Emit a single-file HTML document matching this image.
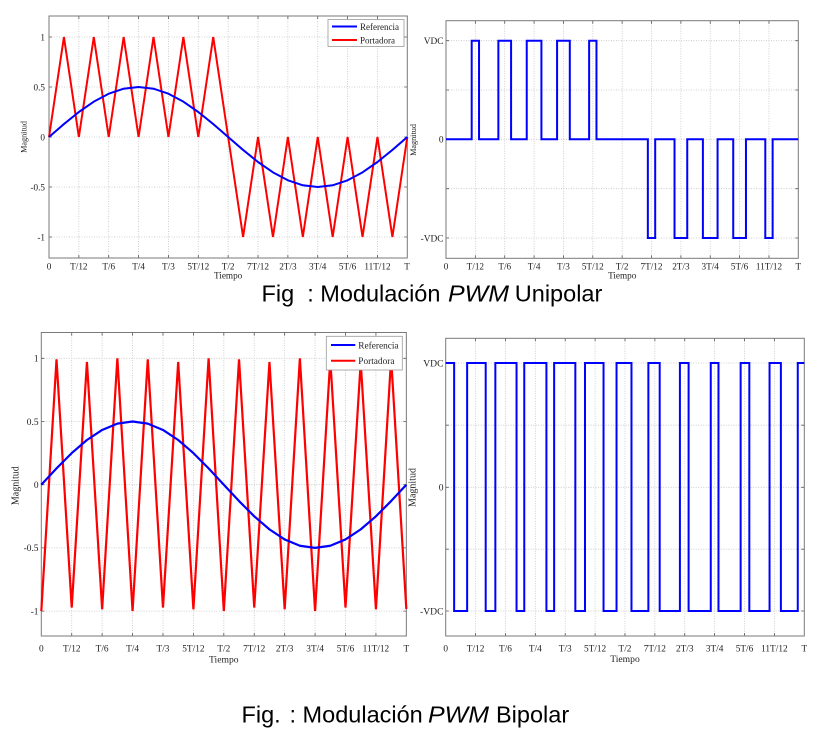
<!DOCTYPE html>
<html><head><meta charset="utf-8"><style>
html,body{margin:0;padding:0;background:#fff;}
svg{display:block;}
.t{font-family:"Liberation Serif",serif;fill:#222;}
.g{stroke:#c4c4c4;stroke-width:0.8;stroke-dasharray:1 1.5;fill:none;}
.ax{stroke:#7a7a7a;stroke-width:1;fill:none;}
.tk{stroke:#555;stroke-width:0.8;fill:none;}
.cap{font-family:"Liberation Sans",Arial,sans-serif;font-size:23.5px;fill:#000;}
</style></head><body>
<svg width="826" height="742" viewBox="0 0 826 742" xmlns="http://www.w3.org/2000/svg">
<rect width="826" height="742" fill="#fff"/>

<!-- ============ TOP LEFT ============ -->
<g>
<path class="g" d="M78.86,16V258M108.72,16V258M138.58,16V258M168.44,16V258M198.3,16V258M228.16,16V258M258.02,16V258M287.88,16V258M317.74,16V258M347.6,16V258M377.46,16V258
M49,37H407.3M49,87H407.3M49,137H407.3M49,187H407.3M49,237H407.3"/>
<path class="tk" d="M78.86,258v-3M108.72,258v-3M138.58,258v-3M168.44,258v-3M198.3,258v-3M228.16,258v-3M258.02,258v-3M287.88,258v-3M317.74,258v-3M347.6,258v-3M377.46,258v-3
M78.86,16v3M108.72,16v3M138.58,16v3M168.44,16v3M198.3,16v3M228.16,16v3M258.02,16v3M287.88,16v3M317.74,16v3M347.6,16v3M377.46,16v3
M49,37h3M49,87h3M49,137h3M49,187h3M49,237h3M407.3,37h-3M407.3,87h-3M407.3,137h-3M407.3,187h-3M407.3,237h-3"/>
<rect class="ax" x="49" y="16" width="358.3" height="242"/>
<polyline fill="none" stroke="#ff0000" stroke-width="2" stroke-linejoin="miter" points="49,137 63.93,37 78.86,137 93.79,37 108.72,137 123.65,37 138.58,137 153.51,37 168.44,137 183.37,37 198.3,137 213.23,37 228.16,137 243.09,237 258.02,137 272.95,237 287.88,137 302.81,237 317.74,137 332.67,237 347.6,137 362.53,237 377.46,137 392.39,237 407.3,137"/>
<polyline fill="none" stroke="#0000ff" stroke-width="2" stroke-linejoin="round" points="49,137 63.93,124.06 78.86,112 93.79,101.64 108.72,93.7 123.65,88.7 138.58,87 153.51,88.7 168.44,93.7 183.37,101.64 198.3,112 213.23,124.06 228.16,137 243.09,149.94 258.02,162 272.95,172.36 287.88,180.3 302.81,185.3 317.74,187 332.67,185.3 347.6,180.3 362.53,172.36 377.46,162 392.39,149.94 407.3,137"/>
<rect x="328" y="19.5" width="76" height="27" fill="#fff" stroke="#999" stroke-width="0.8"/>
<path d="M332,26.5H357" stroke="#0000ff" stroke-width="2"/>
<path d="M332,40H357" stroke="#ff0000" stroke-width="2"/>
<text class="t" font-size="9" x="360" y="29.8">Referencia</text>
<text class="t" font-size="9" x="360" y="43.3">Portadora</text>
<text class="t" font-size="9.2" text-anchor="end"><tspan x="45" y="40.3">1</tspan><tspan x="45" y="90.3">0.5</tspan><tspan x="45" y="140.3">0</tspan><tspan x="45" y="190.3">-0.5</tspan><tspan x="45" y="240.3">-1</tspan></text>
<text class="t" font-size="9.2" text-anchor="middle" y="269.5"><tspan x="49">0</tspan><tspan x="78.86">T/12</tspan><tspan x="108.72">T/6</tspan><tspan x="138.58">T/4</tspan><tspan x="168.44">T/3</tspan><tspan x="198.3">5T/12</tspan><tspan x="228.16">T/2</tspan><tspan x="258.02">7T/12</tspan><tspan x="287.88">2T/3</tspan><tspan x="317.74">3T/4</tspan><tspan x="347.6">5T/6</tspan><tspan x="377.46">11T/12</tspan><tspan x="407">T</tspan></text>
<text class="t" font-size="9.2" text-anchor="middle" x="228.16" y="278.5">Tiempo</text>
<text class="t" font-size="8.2" text-anchor="middle" transform="translate(26.5,137) rotate(-90)">Magnitud</text>
</g>

<!-- ============ TOP RIGHT ============ -->
<g>
<path class="g" d="M475.36,20.7V258.3M504.72,20.7V258.3M534.08,20.7V258.3M563.44,20.7V258.3M592.8,20.7V258.3M622.16,20.7V258.3M651.52,20.7V258.3M680.88,20.7V258.3M710.24,20.7V258.3M739.6,20.7V258.3M768.96,20.7V258.3
M446,40.7H798.3M446,90H798.3M446,139.3H798.3M446,188.7H798.3M446,238H798.3"/>
<path class="tk" d="M475.36,258.3v-3M504.72,258.3v-3M534.08,258.3v-3M563.44,258.3v-3M592.8,258.3v-3M622.16,258.3v-3M651.52,258.3v-3M680.88,258.3v-3M710.24,258.3v-3M739.6,258.3v-3M768.96,258.3v-3
M475.36,20.7v3M504.72,20.7v3M534.08,20.7v3M563.44,20.7v3M592.8,20.7v3M622.16,20.7v3M651.52,20.7v3M680.88,20.7v3M710.24,20.7v3M739.6,20.7v3M768.96,20.7v3
M446,40.7h3M446,90h3M446,139.3h3M446,188.7h3M446,238h3M798.3,40.7h-3M798.3,90h-3M798.3,139.3h-3M798.3,188.7h-3M798.3,238h-3"/>
<rect class="ax" x="446" y="20.7" width="352.3" height="237.6"/>
<path fill="none" stroke="#0000ff" stroke-width="2" stroke-linejoin="miter" d="M446,139.3H471.69V40.7H479.03V139.3H498.36V40.7H511.08V139.3H526.74V40.7H541.42V139.3H557.08V40.7H569.8V139.3H589.13V40.7H596.47V139.3H647.85V238H655.19V139.3H674.52V238H687.24V139.3H702.9V238H717.58V139.3H733.24V238H745.96V139.3H765.29V238H772.63V139.3H798.3"/>
<text class="t" font-size="9.4" text-anchor="end"><tspan x="443.5" y="44">VDC</tspan><tspan x="443.5" y="142.6">0</tspan><tspan x="443.5" y="241.3">-VDC</tspan></text>
<text class="t" font-size="9.2" text-anchor="middle" y="269.5"><tspan x="446">0</tspan><tspan x="475.36">T/12</tspan><tspan x="504.72">T/6</tspan><tspan x="534.08">T/4</tspan><tspan x="563.44">T/3</tspan><tspan x="592.8">5T/12</tspan><tspan x="622.16">T/2</tspan><tspan x="651.52">7T/12</tspan><tspan x="680.88">2T/3</tspan><tspan x="710.24">3T/4</tspan><tspan x="739.6">5T/6</tspan><tspan x="768.96">11T/12</tspan><tspan x="798.3">T</tspan></text>
<text class="t" font-size="9.2" text-anchor="middle" x="622.2" y="278.3">Tiempo</text>
<text class="t" font-size="8.2" text-anchor="middle" transform="translate(416,140) rotate(-90)">Magnitud</text>
</g>

<!-- ============ BOTTOM LEFT ============ -->
<g>
<path class="g" d="M71.72,332.5V636M102.14,332.5V636M132.56,332.5V636M162.98,332.5V636M193.4,332.5V636M223.82,332.5V636M254.24,332.5V636M284.66,332.5V636M315.08,332.5V636M345.5,332.5V636M375.92,332.5V636
M41.3,358.3H406.34M41.3,421.5H406.34M41.3,484.7H406.34M41.3,547.9H406.34M41.3,611.1H406.34"/>
<path class="tk" d="M71.72,636v-3M102.14,636v-3M132.56,636v-3M162.98,636v-3M193.4,636v-3M223.82,636v-3M254.24,636v-3M284.66,636v-3M315.08,636v-3M345.5,636v-3M375.92,636v-3
M71.72,332.5v3M102.14,332.5v3M132.56,332.5v3M162.98,332.5v3M193.4,332.5v3M223.82,332.5v3M254.24,332.5v3M284.66,332.5v3M315.08,332.5v3M345.5,332.5v3M375.92,332.5v3
M41.3,358.3h3M41.3,421.5h3M41.3,484.7h3M41.3,547.9h3M41.3,611.1h3M406.34,358.3h-3M406.34,421.5h-3M406.34,484.7h-3M406.34,547.9h-3M406.34,611.1h-3"/>
<rect class="ax" x="41.3" y="332.5" width="365.04" height="303.5"/>
<polyline fill="none" stroke="#ff0000" stroke-width="2.2" stroke-linejoin="miter" points="41.3,611.1 56.51,359.3 71.72,607.5 86.93,362 102.14,609.3 117.35,358.3 132.56,611.1 147.77,359.3 162.98,607.5 178.19,362 193.4,609.3 208.61,358.3 223.82,611.1 239.03,359.3 254.24,607.5 269.45,362 284.66,609.3 299.87,358.3 315.08,611.1 330.29,359.3 345.5,607.5 360.71,362 375.92,609.3 391.13,358.3 406.34,609"/>
<polyline fill="none" stroke="#0000ff" stroke-width="2.2" stroke-linejoin="round" points="41.3,484.7 56.51,468.34 71.72,453.1 86.93,440.01 102.14,429.97 117.35,423.65 132.56,421.5 147.77,423.65 162.98,429.97 178.19,440.01 193.4,453.1 208.61,468.34 223.82,484.7 239.03,501.06 254.24,516.3 269.45,529.39 284.66,539.43 299.87,545.75 315.08,547.9 330.29,545.75 345.5,539.43 360.71,529.39 375.92,516.3 391.13,501.06 406.34,484.7"/>
<rect x="326.3" y="336.3" width="76" height="33.7" fill="#fff" stroke="#999" stroke-width="0.8"/>
<path d="M331,345H355.3" stroke="#0000ff" stroke-width="2"/>
<path d="M331,360.7H355.3" stroke="#ff0000" stroke-width="2"/>
<text class="t" font-size="9.3" x="358.3" y="348.4">Referencia</text>
<text class="t" font-size="9.3" x="358.3" y="364.1">Portadora</text>
<text class="t" font-size="9.4" text-anchor="end"><tspan x="38.5" y="361.6">1</tspan><tspan x="38.5" y="424.8">0.5</tspan><tspan x="38.5" y="488">0</tspan><tspan x="38.5" y="551.2">-0.5</tspan><tspan x="38.5" y="614.4">-1</tspan></text>
<text class="t" font-size="9.3" text-anchor="middle" y="651.5"><tspan x="41.3">0</tspan><tspan x="71.72">T/12</tspan><tspan x="102.14">T/6</tspan><tspan x="132.56">T/4</tspan><tspan x="162.98">T/3</tspan><tspan x="193.4">5T/12</tspan><tspan x="223.82">T/2</tspan><tspan x="254.24">7T/12</tspan><tspan x="284.66">2T/3</tspan><tspan x="315.08">3T/4</tspan><tspan x="345.5">5T/6</tspan><tspan x="375.92">11T/12</tspan><tspan x="406.34">T</tspan></text>
<text class="t" font-size="9.6" text-anchor="middle" x="223.8" y="662.5">Tiempo</text>
<text class="t" font-size="10" text-anchor="middle" transform="translate(18.5,485.7) rotate(-90)">Magnitud</text>
</g>

<!-- ============ BOTTOM RIGHT ============ -->
<g>
<path class="g" d="M475.58,338.3V636M505.46,338.3V636M535.34,338.3V636M565.22,338.3V636M595.1,338.3V636M624.98,338.3V636M654.86,338.3V636M684.74,338.3V636M714.62,338.3V636M744.5,338.3V636M774.38,338.3V636
M445.7,363H804.3M445.7,425.2H804.3M445.7,487.3H804.3M445.7,549.2H804.3M445.7,611H804.3"/>
<path class="tk" d="M475.58,636v-3M505.46,636v-3M535.34,636v-3M565.22,636v-3M595.1,636v-3M624.98,636v-3M654.86,636v-3M684.74,636v-3M714.62,636v-3M744.5,636v-3M774.38,636v-3
M475.58,338.3v3M505.46,338.3v3M535.34,338.3v3M565.22,338.3v3M595.1,338.3v3M624.98,338.3v3M654.86,338.3v3M684.74,338.3v3M714.62,338.3v3M744.5,338.3v3M774.38,338.3v3
M445.7,363h3M445.7,425.2h3M445.7,487.3h3M445.7,549.2h3M445.7,611h3M804.3,363h-3M804.3,425.2h-3M804.3,487.3h-3M804.3,549.2h-3M804.3,611h-3"/>
<rect class="ax" x="445.7" y="338.3" width="358.6" height="297.7"/>
<path fill="none" stroke="#0000ff" stroke-width="2" stroke-linejoin="miter" d="M445.7,363H454.14V611H467.14V363H485.69V611H495.35V363H516.54V611H524.26V363H546.42V611H554.14V363H575.33V611H584.99V363H603.54V611H616.54V363H631.48V611H648.36V363H659.69V611H679.91V363H688.6V611H710.76V363H718.48V611H740.64V363H749.33V611H769.55V363H780.88V611H797.76V363H804.3"/>
<text class="t" font-size="9.6" text-anchor="end"><tspan x="443.5" y="366.3">VDC</tspan><tspan x="443.5" y="490.6">0</tspan><tspan x="443.5" y="614.3">-VDC</tspan></text>
<text class="t" font-size="9.3" text-anchor="middle" y="651.3"><tspan x="445.7">0</tspan><tspan x="475.58">T/12</tspan><tspan x="505.46">T/6</tspan><tspan x="535.34">T/4</tspan><tspan x="565.22">T/3</tspan><tspan x="595.1">5T/12</tspan><tspan x="624.98">T/2</tspan><tspan x="654.86">7T/12</tspan><tspan x="684.74">2T/3</tspan><tspan x="714.62">3T/4</tspan><tspan x="744.5">5T/6</tspan><tspan x="774.38">11T/12</tspan><tspan x="804.3">T</tspan></text>
<text class="t" font-size="9.6" text-anchor="middle" x="625" y="661.8">Tiempo</text>
<text class="t" font-size="10" text-anchor="middle" transform="translate(415.5,487.5) rotate(-90)">Magnitud</text>
</g>

<!-- ============ CAPTIONS ============ -->
<text class="cap" y="301.7"><tspan x="261.5">Fig</tspan><tspan x="307.2">: Modulación</tspan></text>
<text class="cap" y="301.7" x="448" font-style="italic" textLength="61" lengthAdjust="spacingAndGlyphs">PWM</text>
<text class="cap" y="301.7" x="514.8">Unipolar</text>
<text class="cap" y="722.7"><tspan x="241.5">Fig.</tspan><tspan x="289.5">: Modulación</tspan></text>
<text class="cap" y="722.7" x="428" font-style="italic" textLength="61" lengthAdjust="spacingAndGlyphs">PWM</text>
<text class="cap" y="722.7" x="496">Bipolar</text>
</svg>
</body></html>
